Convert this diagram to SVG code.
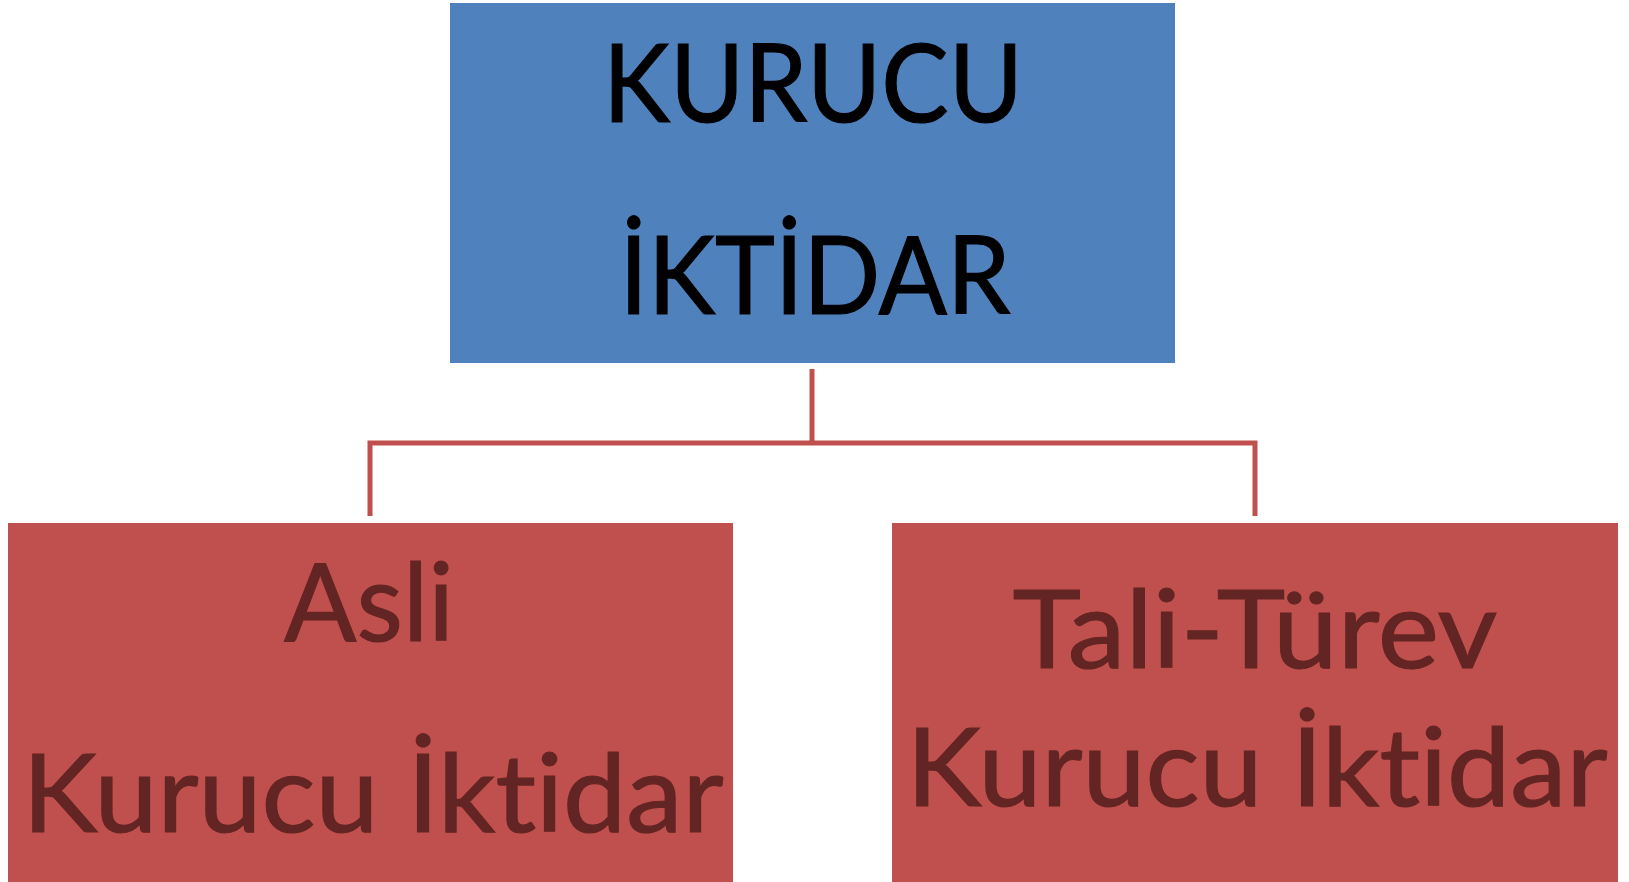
<svg xmlns="http://www.w3.org/2000/svg" width="1629" height="882" viewBox="0 0 1629 882">
<style>
.t{font-family:Lato,"Open Sans","Liberation Sans",sans-serif;font-size:108px;text-anchor:middle;font-variant-ligatures:none;font-feature-settings:"liga" 0,"clig" 0;stroke-width:1.2px}
.top{fill:#000;stroke:#000}
.sub{fill:#632523;stroke:#632523}
.conn{fill:none;stroke:#C0504D;stroke-width:5}
</style>
<rect width="1629" height="882" fill="#fff"/>
<g id="connectors">
<path class="conn" d="M812,369 V443"/>
<path class="conn" d="M370,516 V443 H1255 V516"/>
</g>
<g id="node-kurucu-iktidar">
<rect x="450" y="3" width="725" height="360" fill="#4F81BD"/>
<text class="t top" x="813" y="122" textLength="420" lengthAdjust="spacingAndGlyphs">KURUCU</text>
<text class="t top" x="815" y="314" textLength="391" lengthAdjust="spacingAndGlyphs">İKTİDAR</text>
</g>
<g id="node-asli">
<rect x="8" y="523" width="725" height="359" fill="#C0504D"/>
<text class="t sub" x="369" y="641" textLength="170" lengthAdjust="spacingAndGlyphs">Asli</text>
<text class="t sub" x="373" y="832" textLength="701" lengthAdjust="spacingAndGlyphs">Kurucu İktidar</text>
</g>
<g id="node-tali">
<rect x="892" y="523" width="726" height="359" fill="#C0504D"/>
<text class="t sub" x="1255" y="668" textLength="485" lengthAdjust="spacingAndGlyphs">Tali-Türev</text>
<text class="t sub" x="1257" y="806" textLength="701" lengthAdjust="spacingAndGlyphs">Kurucu İktidar</text>
</g>
</svg>
